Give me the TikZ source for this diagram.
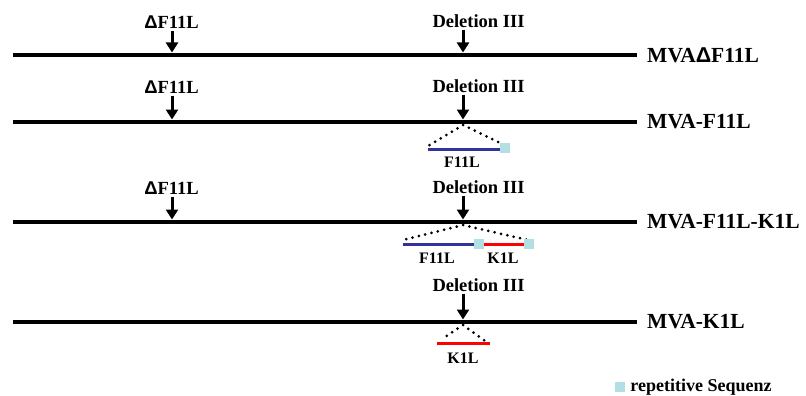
\documentclass[tikz,border=0pt]{standalone}
\usepackage{fontspec}
\setmainfont{Liberation Serif}
\newfontfamily\deltafont{Liberation Sans}
\usepackage{xcolor}
\definecolor{geneblue}{RGB}{51,51,153}
\definecolor{genered}{RGB}{255,0,0}
\definecolor{repcyan}{RGB}{178,223,228}
\usepackage{tikz}
\usetikzlibrary{
  arrows.meta,
  positioning
}
\tikzset{
  genome/.style={line width=4.5pt},
  marker/.style={-{Triangle[length=10pt,width=12pt]}, line width=3pt, shorten <=2pt},
  sitelabel/.style={font=\bfseries\fontsize{18.5}{21}\selectfont, inner sep=0pt},
  strainlabel/.style={font=\bfseries\fontsize{21.5}{25}\selectfont, inner sep=0pt},
  insertline/.style={dash pattern=on 0pt off 6.5pt, line cap=round, line width=3pt},
  geneline/.style={line width=3pt},
  genelabel/.style={font=\bfseries\fontsize{16}{18}\selectfont, inner sep=0pt},
  legendlabel/.style={font=\bfseries\fontsize{18}{20}\selectfont, inner sep=0pt},
  repbox/.style={fill=repcyan, minimum size=10pt, inner sep=0pt},
}
\newcommand{\DEL}{{\deltafont\bfseries Δ}}

\begin{document}
\begin{tikzpicture}[x=1pt, y=-1pt]
  \useasboundingbox (0,0) rectangle (806,396);

  % MVA deltaF11L
  \coordinate (r1s) at (13,55);
  \coordinate (r1e) at (637,55);
  \coordinate (t1f) at (172,52.5);
  \coordinate (t1d) at (463,52.5);
  \draw[genome] (r1s) -- (r1e);
  \node[strainlabel, right=10pt of r1e] (mva1) {MVA\DEL F11L};
  \node[sitelabel] (f1) at (171.5,22) {\DEL F11L};
  \node[sitelabel] (d1) at (478.5,21) {Deletion III};
  \draw[marker] (t1f |- f1.south) -- (t1f);
  \draw[marker] (t1d |- d1.south) -- (t1d);

  % MVA-F11L
  \coordinate (r2s) at (13,122);
  \coordinate (r2e) at (637,122);
  \coordinate (t2f) at (172,119.5);
  \coordinate (t2d) at (463,119.5);
  \draw[genome] (r2s) -- (r2e);
  \node[strainlabel, right=10pt of r2e] (mva2) {MVA-F11L};
  \node[sitelabel] (f2) at (171.5,87) {\DEL F11L};
  \node[sitelabel] (d2) at (478.5,86) {Deletion III};
  \draw[marker] (t2f |- f2.south) -- (t2f);
  \draw[marker] (t2d |- d2.south) -- (t2d);
  \coordinate (a2) at (463,125);
  \coordinate (a2l) at (428,146);
  \coordinate (a2r) at (500,143);
  \draw[insertline] (a2) -- (a2l) (a2) -- (a2r);
  \coordinate (g2s) at (428,149);
  \coordinate (g2e) at (500,149);
  \draw[geneline, geneblue] (g2s) -- (g2e);
  \node[repbox] (s2) at (505,148) {};
  \node[genelabel] (g2) at (462,162) {F11L};

  % MVA-F11L-K1L
  \coordinate (r3s) at (13,222);
  \coordinate (r3e) at (637,222);
  \coordinate (t3f) at (172,219.5);
  \coordinate (t3d) at (463,219.5);
  \draw[genome] (r3s) -- (r3e);
  \node[strainlabel, right=10pt of r3e] (mva3) {MVA-F11L-K1L};
  \node[sitelabel] (f3) at (171.5,188) {\DEL F11L};
  \node[sitelabel] (d3) at (478.5,187) {Deletion III};
  \draw[marker] (t3f |- f3.south) -- (t3f);
  \draw[marker] (t3d |- d3.south) -- (t3d);
  \coordinate (a3) at (463,225);
  \coordinate (a3l) at (403,240);
  \coordinate (a3r) at (528,240);
  \draw[insertline] (a3) -- (a3l) (a3) -- (a3r);
  \node[repbox] (s3a) at (479,244) {};
  \node[repbox] (s3b) at (529,244) {};
  \coordinate (g3s) at (403,244);
  \draw[geneline, geneblue] (g3s) -- (s3a.west);
  \draw[geneline, genered] (s3a.east) -- (s3b.west);
  \node[genelabel] (g3a) at (437,258) {F11L};
  \node[genelabel] (g3b) at (503,258) {K1L};

  % MVA-K1L
  \coordinate (r4s) at (13,322);
  \coordinate (r4e) at (637,322);
  \coordinate (t4d) at (463,319.5);
  \draw[genome] (r4s) -- (r4e);
  \node[strainlabel, right=10pt of r4e] (mva4) {MVA-K1L};
  \node[sitelabel] (d4) at (478.5,285) {Deletion III};
  \draw[marker] (t4d |- d4.south) -- (t4d);
  \coordinate (a4) at (463,325);
  \coordinate (a4l) at (442,339);
  \coordinate (a4r) at (488,343);
  \draw[insertline] (a4) -- (a4l) (a4) -- (a4r);
  \coordinate (g4s) at (437,343);
  \coordinate (g4e) at (490,343);
  \draw[geneline, genered] (g4s) -- (g4e);
  \node[genelabel] (g4) at (463,358) {K1L};

  % legend
  \node[repbox] (leg) at (620,387) {};
  \node[legendlabel, right=5pt of leg] (legtxt) {repetitive Sequenz};
\end{tikzpicture}
\end{document}
